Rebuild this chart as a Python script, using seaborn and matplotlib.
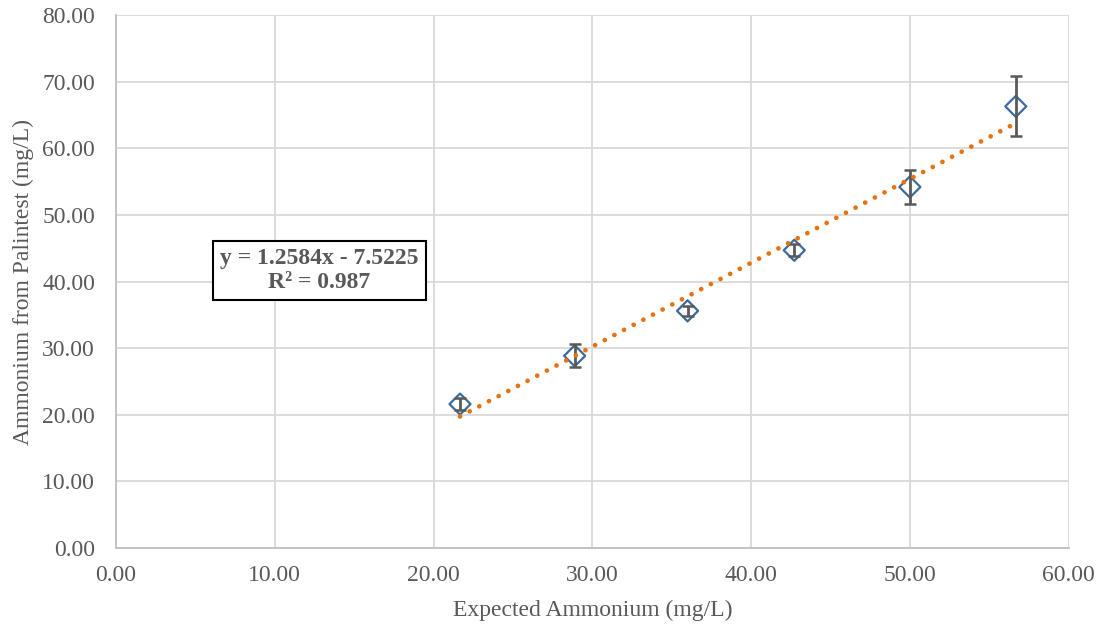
import numpy as np
import pandas as pd
import matplotlib
matplotlib.use("Agg")
import matplotlib.pyplot as plt
import seaborn as sns

# Measured data
expected = [21.67, 28.89, 36.00, 42.72, 50.00, 56.67]
palintest = [21.60, 28.85, 35.60, 44.70, 54.20, 66.30]
std_err = [0.90, 1.70, 0.80, 0.90, 2.50, 4.50]

# Linear trendline coefficients
slope = 1.2584
intercept = -7.5225
r_squared = 0.987

x_ticks = [0, 10, 20, 30, 40, 50, 60]
y_ticks = [0, 10, 20, 30, 40, 50, 60, 70, 80]

sns.set_theme(style="whitegrid")
plt.rcParams["font.family"] = ["Liberation Serif", "DejaVu Serif"]

fig = plt.figure(figsize=(11.04, 6.32), dpi=100)
ax = fig.add_axes([0.105, 0.133, 0.863, 0.843])

df = pd.DataFrame({"expected": expected, "palintest": palintest})

marker_color = "#3B6A9C"
err_color = "#595959"
trend_color = "#E8720C"
text_color = "#595959"
font_size = 17

sns.scatterplot(data=df, x="expected", y="palintest", ax=ax, marker="D", s=115,
                facecolor="none", edgecolor=marker_color, linewidth=1.6, zorder=3)

ax.errorbar(expected, palintest, yerr=std_err, fmt="none", ecolor=err_color,
            elinewidth=2.0, capsize=4.5, capthick=1.8, zorder=4)

trend_x = np.array([min(expected), max(expected)])
trend_df = pd.DataFrame({"x": trend_x, "y": slope * trend_x + intercept})
sns.lineplot(data=trend_df, x="x", y="y", ax=ax, color=trend_color, linewidth=3.4,
             linestyle=(0, (0.01, 2.3)), dash_capstyle="round", zorder=5)

ax.set_xlim(0, 60)
ax.set_ylim(0, 80)
ax.set_xticks(x_ticks)
ax.set_yticks(y_ticks)
ax.set_xticklabels([f"{v:.2f}" for v in x_ticks])
ax.set_yticklabels([f"{v:.2f}" for v in y_ticks])
ax.tick_params(axis="both", labelsize=font_size, colors=text_color, length=0)
ax.tick_params(axis="x", pad=12)
ax.tick_params(axis="y", pad=15)

ax.set_xlabel("Expected Ammonium (mg/L)", fontsize=font_size, color=text_color, labelpad=10)
ax.set_ylabel("Ammonium from Palintest (mg/L)", fontsize=font_size, color=text_color, labelpad=6)

ax.grid(True, color="#D9D9D9", linewidth=1.3)
ax.set_facecolor("white")
for side in ["top", "right"]:
    ax.spines[side].set_visible(False)
for side in ["left", "bottom"]:
    ax.spines[side].set_color("#BFBFBF")
    ax.spines[side].set_linewidth(1.3)

sign = "-" if intercept < 0 else "+"
eq_text = f"y = {slope:.4f}x {sign} {abs(intercept):.4f}\nR² = {r_squared:.3f}"
ax.text(12.8, 41.7, eq_text, ha="center", va="center", fontsize=font_size, fontweight="bold",
        color=text_color, linespacing=1.2,
        bbox=dict(boxstyle="square,pad=0.3", facecolor="white", edgecolor="black", linewidth=1.5))

fig.savefig("out.png", dpi=100)
